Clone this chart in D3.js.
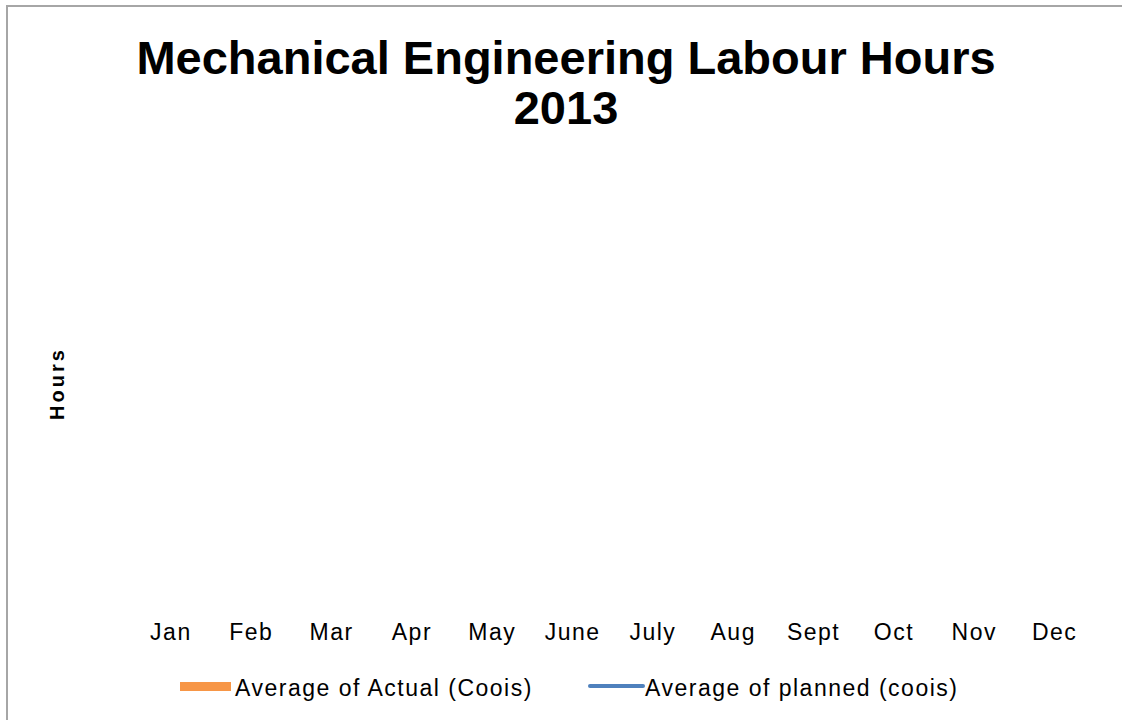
<!DOCTYPE html>
<html>
<head>
<meta charset="utf-8">
<script src="https://cdn.jsdelivr.net/npm/d3@7"></script>
<style>
	body { margin: 0; background: #fff; }
	svg { display: block; font-family: "Liberation Sans", Arial, sans-serif; }
</style>
</head>
<body>
<svg id="chart" width="1122" height="720"></svg>
<script>
// months on the x axis
const months = ["Jan", "Feb", "Mar", "Apr", "May", "June", "July", "Aug", "Sept", "Oct", "Nov", "Dec"];
// the reference shows no values for either series
const actualHours = [null, null, null, null, null, null, null, null, null, null, null, null];
const plannedHours = [null, null, null, null, null, null, null, null, null, null, null, null];
const seriesNames = ["Average of Actual (Coois)", "Average of planned (coois)"];
const titleLines = ["Mechanical Engineering Labour Hours", "2013"];

const svg = d3.select("#chart");

// chart frame (right and bottom edges fall outside the picture)
svg.append("rect")
	.attr("x", 7)
	.attr("y", 6)
	.attr("width", 1200)
	.attr("height", 800)
	.attr("fill", "#fff")
	.attr("stroke", "#a6a6a6")
	.attr("stroke-width", 2);

const plot = { left: 130, right: 1094, top: 150, bottom: 610 };

const x = d3.scaleBand()
	.domain(months)
	.range([plot.left, plot.right]);

const y = d3.scaleLinear()
	.domain([0, 1])
	.range([plot.bottom, plot.top]);

// bars for actual (nothing drawn when values are missing)
svg.append("g")
	.selectAll("rect")
	.data(months.map((m, i) => ({ m, v: actualHours[i] })).filter(d => d.v != null))
	.join("rect")
	.attr("x", d => x(d.m) + x.bandwidth() * 0.2)
	.attr("width", x.bandwidth() * 0.6)
	.attr("y", d => y(d.v))
	.attr("height", d => y(0) - y(d.v))
	.attr("fill", "#f79646");

// line for planned
const line = d3.line()
	.defined(d => d != null)
	.x((d, i) => x(months[i]) + x.bandwidth() / 2)
	.y(d => y(d));

svg.append("path")
	.datum(plannedHours)
	.attr("fill", "none")
	.attr("stroke", "#4f81bd")
	.attr("stroke-width", 3)
	.attr("d", line);

// x axis labels
const xAxis = svg.append("g")
	.attr("transform", `translate(0,${plot.bottom + 14})`)
	.call(d3.axisBottom(x).tickSize(0).tickPadding(0));
xAxis.select(".domain").remove();
xAxis.selectAll("text")
	.attr("font-family", "Liberation Sans, Arial, sans-serif")
	.attr("font-size", 23)
	.attr("letter-spacing", 1.5)
	.attr("fill", "#000")
	.attr("dx", 0.75)
	.attr("dy", "0.71em");

// title
svg.append("g")
	.selectAll("text")
	.data(titleLines)
	.join("text")
	.attr("x", 566)
	.attr("y", (d, i) => 74 + i * 50)
	.attr("text-anchor", "middle")
	.attr("font-size", 47)
	.attr("font-weight", "bold")
	.attr("fill", "#000")
	.text(d => d);

// y axis title
svg.append("text")
	.attr("transform", "translate(64,385) rotate(-90)")
	.attr("text-anchor", "middle")
	.attr("dx", 1.5)
	.attr("font-size", 20)
	.attr("font-weight", "bold")
	.attr("letter-spacing", 3)
	.attr("fill", "#000")
	.text("Hours");

// legend
const legend = svg.append("g")
	.attr("font-size", 23)
	.attr("letter-spacing", 1.5)
	.attr("fill", "#000");
legend.append("rect")
	.attr("x", 180)
	.attr("y", 682)
	.attr("width", 51)
	.attr("height", 9)
	.attr("fill", "#f79646");
legend.append("text")
	.attr("x", 235)
	.attr("y", 696)
	.text(seriesNames[0]);
legend.append("line")
	.attr("x1", 590)
	.attr("x2", 643)
	.attr("y1", 686)
	.attr("y2", 686)
	.attr("stroke", "#4f81bd")
	.attr("stroke-width", 4)
	.attr("stroke-linecap", "round");
legend.append("text")
	.attr("x", 645)
	.attr("y", 696)
	.text(seriesNames[1]);
</script>
</body>
</html>
